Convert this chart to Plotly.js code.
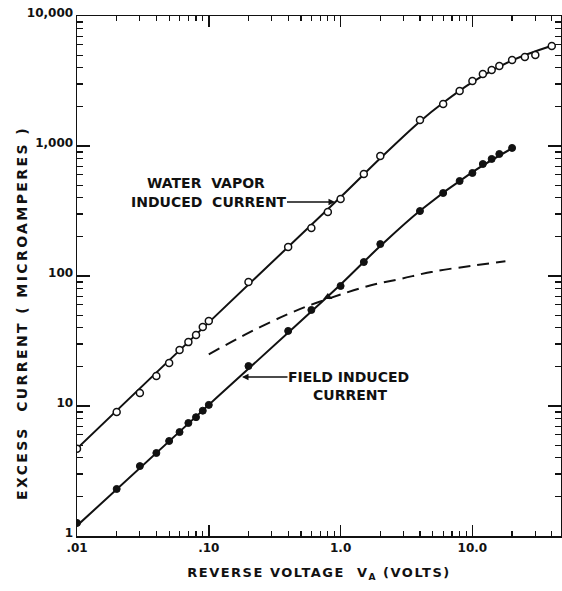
<!DOCTYPE html>
<html>
<head>
<meta charset="utf-8">
<script src="https://cdn.plot.ly/plotly-3.0.1.min.js"></script>
<style>
  html, body { margin: 0; padding: 0; background: #fff; }
  #chart { width: 562px; height: 591px; }
  text[data-unformatted^="EXCESS"] { letter-spacing: 2.4px; }
  text.xtitle { letter-spacing: 1.5px; }
</style>
</head>
<body>
<div id="chart"></div>
<script>
// ---- Data ----
// Water vapor induced current (open circles)
const waterV = [0.01,0.02,0.03,0.04,0.05,0.06,0.07,0.08,0.09,0.1,0.2,0.4,0.6,0.8,1.0,1.5,2,4,6,8,10,12,14,16,20,25,30,40];
const waterI = [4.7,9.0,12.6,17,21.4,27,31,35.2,40.5,45,90,167,234,311,391,609,838,1585,2104,2650,3162,3580,3844,4124,4590,4840,5015,5876];
// Field induced current (filled circles)
const fieldV = [0.01,0.02,0.03,0.04,0.05,0.06,0.07,0.08,0.09,0.1,0.2,0.4,0.6,1.0,1.5,2,4,6,8,10,12,14,16,20];
const fieldI = [1.26,2.3,3.45,4.35,5.38,6.3,7.4,8.2,9.2,10.2,20.3,37.8,54.8,83.8,128,176,316,435,538,620,727,795,868,966];
// Single triangle point
const triV = [0.8];
const triI = [69];
// Drawn curves
const waterFitV = [0.01,0.1,1,2,4,6,10,20,40];
const waterFitI = [4.7,44,405,805,1545,2150,3100,4550,5900];
const fieldFitV = [0.01,0.1,0.5,1,2,4,10,20];
const fieldFitI = [1.2,10.2,45,86,170,318,630,960];
const dashV = [0.1,0.2,0.4,0.65,1,1.7,2.85,5,10,17.8];
const dashI = [25,36.5,51,62,72,85,95,108,120,130];
// Tick labels
const xTickVals = [0.01,0.1,1,10];
const xTickText = ['.01','.10','1.0','10.0'];
const yTickVals = [1,10,100,1000,10000];
const yTickText = ['1','10','100','1,000','10,000'];

const ink = '#111';
const FONT = 'DejaVu Sans';

function minorLog(lo, hi) {
  const out = [];
  for (let d = lo; d < hi; d++) {
    for (let m = 2; m <= 9; m++) out.push(m * Math.pow(10, d));
  }
  return out;
}

const traces = [
  { x: waterFitV, y: waterFitI, mode: 'lines', line: {color: ink, width: 2, shape: 'spline', smoothing: 1}, hoverinfo: 'skip' },
  { x: fieldFitV, y: fieldFitI, mode: 'lines', line: {color: ink, width: 2, shape: 'spline', smoothing: 1}, hoverinfo: 'skip' },
  { x: dashV, y: dashI, mode: 'lines', line: {color: ink, width: 2, dash: '12px,7px', shape: 'spline'}, hoverinfo: 'skip' },
  { x: waterV, y: waterI, mode: 'markers', marker: {symbol: 'circle', size: 7, color: '#fff', line: {color: ink, width: 1.5}} },
  { x: fieldV, y: fieldI, mode: 'markers', marker: {symbol: 'circle', size: 7, color: ink, line: {color: ink, width: 1}} },
  { x: triV, y: triI, mode: 'markers', marker: {symbol: 'triangle-up', size: 8, color: ink} }
];

const tickFont = {family: FONT, size: 12, weight: 'bold', color: ink};
const annFont = {family: FONT, size: 14, weight: 'bold', color: ink};

// pixel helpers for label placement only
const px2log = p => (p - 77) / (484 / (2 + Math.log10(47))) - 2;
const py2log = p => (536 - p) / 130;

const layout = {
  width: 562, height: 591,
  margin: {l: 77, r: 1, t: 16, b: 55},
  paper_bgcolor: '#fff', plot_bgcolor: '#fff',
  showlegend: false,
  xaxis: {
    type: 'log', range: [-2, Math.log10(47)],
    tickmode: 'array', tickvals: xTickVals, ticktext: xTickText,
    ticks: 'inside', ticklen: 11, tickwidth: 1.5, tickcolor: ink,
    showline: true, linecolor: ink, linewidth: 1.5, mirror: 'ticks',
    showgrid: false, zeroline: false, tickfont: tickFont,
    minor: {tickmode: 'array', tickvals: minorLog(-2, 2), ticks: 'inside', ticklen: 5, tickwidth: 1.2, tickcolor: ink, showgrid: false},
    title: {text: 'REVERSE VOLTAGE  V<sub>A</sub> (VOLTS)', font: {family: FONT, size: 13, weight: 'bold', color: ink}, standoff: 14}
  },
  yaxis: {
    type: 'log', range: [0, 4],
    tickmode: 'array', tickvals: yTickVals, ticktext: yTickText,
    ticks: 'inside', ticklen: 13, tickwidth: 1.5, tickcolor: ink,
    showline: true, linecolor: ink, linewidth: 1.5, mirror: 'ticks',
    showgrid: false, zeroline: false, tickfont: tickFont, ticklabelshift: -3,
    minor: {tickmode: 'array', tickvals: minorLog(0, 4), ticks: 'inside', ticklen: 6, tickwidth: 1.2, tickcolor: ink, showgrid: false}
  },
  annotations: [
    { xref: 'x', yref: 'y', x: px2log(206), y: py2log(183),
      xanchor: 'center', yanchor: 'middle', showarrow: false,
      text: 'WATER\u00a0\u00a0VAPOR', font: annFont },
    { xref: 'x', yref: 'y', x: px2log(335), y: py2log(202), ax: 208.5 - 335, ay: 0,
      text: 'INDUCED\u00a0\u00a0CURRENT', font: annFont, borderpad: 0,
      showarrow: true, arrowhead: 2, arrowsize: 1, arrowwidth: 1.3, arrowcolor: ink, standoff: 0, startstandoff: 0 },
    { xref: 'x', yref: 'y', x: px2log(242), y: py2log(377), ax: 348.5 - 242, ay: 0,
      text: 'FIELD INDUCED', font: annFont, borderpad: 0,
      showarrow: true, arrowhead: 2, arrowsize: 1, arrowwidth: 1.3, arrowcolor: ink, standoff: 0, startstandoff: 0 },
    { xref: 'x', yref: 'y', x: px2log(350), y: py2log(395),
      xanchor: 'center', yanchor: 'middle', showarrow: false,
      text: 'CURRENT', font: annFont },
    { xref: 'paper', yref: 'paper', x: (22 - 77) / 484, y: (536 - 313) / 520,
      xanchor: 'center', yanchor: 'middle', textangle: -90, showarrow: false,
      text: 'EXCESS  CURRENT ( MICROAMPERES )', font: {family: FONT, size: 14, weight: 'bold', color: ink} }
  ]
};

Plotly.newPlot('chart', traces, layout, {displayModeBar: false, staticPlot: true});
</script>
</body>
</html>
